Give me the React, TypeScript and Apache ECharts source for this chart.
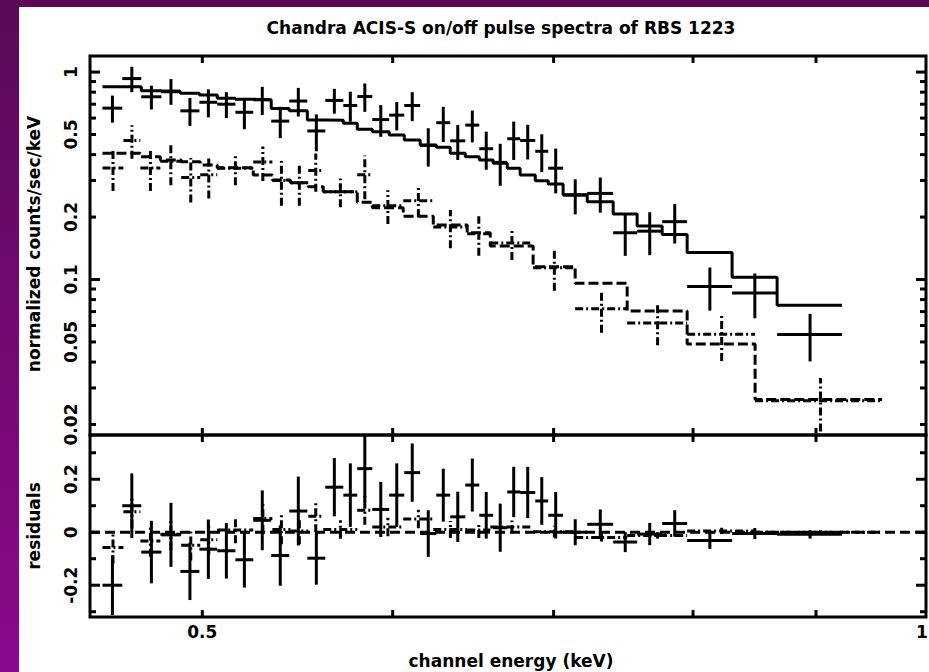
import React, { useEffect, useRef } from "react";
import * as echarts from "echarts";

// ---------- texts ----------
const titleText = "Chandra ACIS-S on/off pulse spectra of RBS 1223";
const xTitle = "channel energy (keV)";
const yTitleTop = "normalized counts/sec/keV";
const yTitleBottom = "residuals";

// ---------- data: "on" pulse (solid crosses, solid model) ----------
const onEdges = [0.4544, 0.4631, 0.4716, 0.4808, 0.4896, 0.4986, 0.5072, 0.5161, 0.525, 0.5341, 0.5434, 0.5529, 0.5625, 0.5723, 0.58, 0.5884, 0.598, 0.6067, 0.616, 0.6256, 0.634, 0.6432, 0.6519, 0.6606, 0.6696, 0.6779, 0.6878, 0.6964, 0.7064, 0.7229, 0.7411, 0.7583, 0.7767, 0.7955, 0.8305, 0.8671, 0.9227];
const onRate = [0.67, 0.93, 0.76, 0.81, 0.65, 0.715, 0.7, 0.64, 0.735, 0.58, 0.725, 0.52, 0.73, 0.69, 0.762, 0.59, 0.62, 0.69, 0.443, 0.57, 0.466, 0.555, 0.427, 0.367, 0.477, 0.468, 0.415, 0.344, 0.255, 0.26, 0.168, 0.171, 0.19, 0.0925, 0.086, 0.0543];
const onErr = [0.1, 0.13, 0.1, 0.115, 0.1, 0.11, 0.1, 0.11, 0.114, 0.1, 0.114, 0.105, 0.1, 0.114, 0.119, 0.103, 0.097, 0.11, 0.093, 0.11, 0.089, 0.097, 0.089, 0.084, 0.1, 0.089, 0.086, 0.084, 0.049, 0.05, 0.038, 0.04, 0.041, 0.0217, 0.021, 0.014];
const onModel = [0.849, 0.849, 0.813, 0.804, 0.79, 0.775, 0.747, 0.739, 0.735, 0.668, 0.651, 0.587, 0.585, 0.566, 0.53, 0.516, 0.497, 0.47, 0.445, 0.434, 0.406, 0.391, 0.377, 0.363, 0.344, 0.319, 0.299, 0.289, 0.256, 0.237, 0.207, 0.181, 0.165, 0.135, 0.1025, 0.0752];
const onResid = [-0.2, 0.1, -0.075, -0.01, -0.148, -0.064, -0.07, -0.104, 0.045, -0.088, 0.08, -0.098, 0.17, 0.14, 0.24, 0.086, 0.14, 0.225, -0.005, 0.14, 0.058, 0.178, 0.064, 0.017, 0.152, 0.15, 0.118, 0.064, 0.0, 0.03, -0.037, -0.007, 0.033, -0.031, -0.005, -0.008];
const onResidErr = [0.113, 0.122, 0.118, 0.121, 0.108, 0.112, 0.105, 0.105, 0.113, 0.114, 0.13, 0.1, 0.11, 0.12, 0.125, 0.104, 0.12, 0.11, 0.088, 0.1, 0.095, 0.1, 0.088, 0.091, 0.095, 0.097, 0.09, 0.088, 0.049, 0.056, 0.038, 0.042, 0.05, 0.032, 0.021, 0.016];

// ---------- data: "off" pulse (dash-dot crosses, dashed model) ----------
const offEdges = [0.4544, 0.4636, 0.4712, 0.4803, 0.49, 0.499, 0.5072, 0.525, 0.5347, 0.544, 0.5534, 0.5614, 0.58, 0.5884, 0.6061, 0.6238, 0.6444, 0.6588, 0.6864, 0.7146, 0.7511, 0.7955, 0.849, 0.9588];
const offRate = [0.345, 0.468, 0.345, 0.372, 0.31, 0.32, 0.344, 0.368, 0.3, 0.293, 0.335, 0.265, 0.32, 0.227, 0.24, 0.179, 0.166, 0.15, 0.114, 0.0723, 0.0617, 0.0545, 0.026];
const offErr = [0.078, 0.086, 0.078, 0.087, 0.075, 0.074, 0.059, 0.07, 0.073, 0.066, 0.07, 0.042, 0.076, 0.042, 0.04, 0.0375, 0.036, 0.026, 0.0257, 0.017, 0.0135, 0.014, 0.0075];
const offModel = [0.406, 0.406, 0.391, 0.377, 0.37, 0.356, 0.346, 0.319, 0.302, 0.293, 0.28, 0.265, 0.236, 0.222, 0.202, 0.183, 0.168, 0.145, 0.1153, 0.0959, 0.0704, 0.0489, 0.0264];
const offResid = [-0.058, 0.077, -0.033, -0.008, -0.049, -0.028, 0.008, 0.052, 0.01, 0.005, 0.06, 0.01, 0.083, 0.02, 0.05, 0.01, 0.008, 0.02, 0.002, -0.02, -0.012, 0.005, 0.0];
const offResidErr = [0.06, 0.06, 0.06, 0.06, 0.058, 0.057, 0.05, 0.055, 0.055, 0.05, 0.06, 0.035, 0.055, 0.035, 0.035, 0.032, 0.03, 0.024, 0.022, 0.015, 0.012, 0.012, 0.007];

// ---------- axes ----------
const xMin = 0.449;
const xMax = 1.0;
const yMin = 0.0178;
const yMax = 1.195;
const rMin = -0.32;
const rMax = 0.367;
const xTicks = [0.5, 0.6, 0.7, 0.8, 0.9];
const xLabelValues = [0.5, 1];
const xLabelTexts = ["0.5", "1"];
const yTicks = [0.02, 0.03, 0.04, 0.05, 0.06, 0.07, 0.08, 0.09, 0.1, 0.2, 0.3, 0.4, 0.5, 0.6, 0.7, 0.8, 0.9, 1];
const yMajor = [0.1, 1];
const yLabelValues = [1, 0.5, 0.2, 0.1, 0.05, 0.02];
const yLabelTexts = ["1", "0.5", "0.2", "0.1", "0.05", "0.02"];
const rTicks = [-0.3, -0.2, -0.1, 0, 0.1, 0.2, 0.3];
const rMajor = [-0.2, 0, 0.2];
const rLabelValues = [0.2, 0, -0.2];
const rLabelTexts = ["0.2", "0", "-0.2"];

const FONT = "DejaVu Sans";
const FS = 17;

function crosses(edges: number[], vals: number[], errs: number[]) {
  return vals.map((v, i) => {
    const lo = edges[i];
    const hi = edges[i + 1];
    return [(lo + hi) / 2, v, lo, hi, v - errs[i], v + errs[i]];
  });
}
function steps(edges: number[], vals: number[]) {
  const out: number[][] = [];
  vals.forEach((v, i) => {
    out.push([edges[i], v]);
    out.push([edges[i + 1], v]);
  });
  return out;
}

function errRender(dash: number[] | null) {
  return (params: any, api: any) => {
    const xc = api.value(0);
    const y = api.value(1);
    const pL = api.coord([api.value(2), y]);
    const pR = api.coord([api.value(3), y]);
    const pB = api.coord([xc, api.value(4)]);
    const pT = api.coord([xc, api.value(5)]);
    const style: any = { stroke: "#000", lineWidth: 3, fill: null, lineDash: dash || undefined };
    return {
      type: "group",
      children: [
        { type: "line", shape: { x1: pL[0], y1: pL[1], x2: pR[0], y2: pR[1] }, style },
        { type: "line", shape: { x1: pB[0], y1: pB[1], x2: pT[0], y2: pT[1] }, style },
      ],
    };
  };
}

const tickStyle = { stroke: "#000", lineWidth: 3 };

function xTickRender(refY: number) {
  return (params: any, api: any) => {
    const cs = params.coordSys;
    const px = api.coord([api.value(0), refY])[0];
    const L = 7;
    return {
      type: "group",
      children: [
        { type: "line", shape: { x1: px, y1: cs.y, x2: px, y2: cs.y + L }, style: tickStyle },
        { type: "line", shape: { x1: px, y1: cs.y + cs.height, x2: px, y2: cs.y + cs.height - L }, style: tickStyle },
      ],
    };
  };
}
function yTickRender(refX: number) {
  return (params: any, api: any) => {
    const cs = params.coordSys;
    const py = api.coord([refX, api.value(0)])[1];
    const L = api.value(1) ? 10 : 6;
    return {
      type: "group",
      children: [
        { type: "line", shape: { x1: cs.x, y1: py, x2: cs.x + L, y2: py }, style: tickStyle },
        { type: "line", shape: { x1: cs.x + cs.width, y1: py, x2: cs.x + cs.width - L, y2: py }, style: tickStyle },
      ],
    };
  };
}
const textStyle = { fontSize: FS, fontFamily: FONT, fontWeight: "bold", fill: "#000", align: "center", verticalAlign: "middle" };

function yLabelRender(refX: number, texts: string[]) {
  return (params: any, api: any) => {
    const cs = params.coordSys;
    const py = api.coord([refX, api.value(0)])[1];
    return {
      type: "text",
      x: cs.x - 19,
      y: py,
      rotation: Math.PI / 2,
      style: { ...textStyle, text: texts[params.dataIndex] },
    };
  };
}
function xLabelRender(refY: number, texts: string[]) {
  return (params: any, api: any) => {
    const cs = params.coordSys;
    const px = Math.min(api.coord([api.value(0), refY])[0], 922);
    return {
      type: "text",
      x: px,
      y: cs.y + cs.height + 15,
      style: { ...textStyle, text: texts[params.dataIndex] },
    };
  };
}

export default function App() {
  const ref = useRef<HTMLDivElement>(null);
  useEffect(() => {
    if (!ref.current) return;
    const chart = echarts.init(ref.current, undefined, { renderer: "svg" });
    const hiddenAxis = {
      axisLine: { show: false },
      axisTick: { show: false },
      axisLabel: { show: false },
      splitLine: { show: false },
    };
    const option: any = {
      animation: false,
      backgroundColor: "#fff",
      grid: [
        { left: 90, top: 56, width: 836, height: 379, show: true, borderColor: "#000", borderWidth: 3, backgroundColor: "transparent" },
        { left: 90, top: 435, width: 836, height: 182, show: true, borderColor: "#000", borderWidth: 3, backgroundColor: "transparent" },
      ],
      xAxis: [
        { type: "log", gridIndex: 0, min: xMin, max: xMax, ...hiddenAxis },
        { type: "log", gridIndex: 1, min: xMin, max: xMax, ...hiddenAxis },
      ],
      yAxis: [
        { type: "log", gridIndex: 0, min: yMin, max: yMax, ...hiddenAxis },
        { type: "value", gridIndex: 1, min: rMin, max: rMax, ...hiddenAxis },
      ],
      graphic: [
        {
          type: "rect",
          shape: { x: 0, y: 0, width: 19, height: 672 },
          style: {
            fill: new echarts.graphic.LinearGradient(0, 0, 0, 1, [
              { offset: 0, color: "#5a0a56" },
              { offset: 1, color: "#8a0a8c" },
            ]),
          },
          z: 100,
        },
        { type: "rect", shape: { x: 0, y: 0, width: 929, height: 7 }, style: { fill: "#5a0a52" }, z: 100 },
        { type: "text", x: 501, y: 28, style: { ...textStyle, text: titleText } },
        { type: "text", x: 34, y: 244, rotation: Math.PI / 2, style: { ...textStyle, text: yTitleTop } },
        { type: "text", x: 34, y: 526, rotation: Math.PI / 2, style: { ...textStyle, text: yTitleBottom } },
        { type: "text", x: 511, y: 661, style: { ...textStyle, text: xTitle } },
      ],
      series: [
        // models
        { type: "line", xAxisIndex: 0, yAxisIndex: 0, data: steps(onEdges, onModel), symbol: "none", lineStyle: { color: "#000", width: 3 }, clip: true },
        { type: "line", xAxisIndex: 0, yAxisIndex: 0, data: steps(offEdges, offModel), symbol: "none", lineStyle: { color: "#000", width: 3, type: [10, 4] }, clip: true },
        // data crosses
        { type: "custom", xAxisIndex: 0, yAxisIndex: 0, data: crosses(onEdges, onRate, onErr), renderItem: errRender(null), clip: true },
        { type: "custom", xAxisIndex: 0, yAxisIndex: 0, data: crosses(offEdges, offRate, offErr), renderItem: errRender([8, 3, 2, 3]), clip: true },
        // residual zero line
        { type: "line", xAxisIndex: 1, yAxisIndex: 1, data: [[xMin, 0], [xMax, 0]], symbol: "none", lineStyle: { color: "#000", width: 3, type: [10, 5] } },
        // residual crosses
        { type: "custom", xAxisIndex: 1, yAxisIndex: 1, data: crosses(onEdges, onResid, onResidErr), renderItem: errRender(null), clip: true },
        { type: "custom", xAxisIndex: 1, yAxisIndex: 1, data: crosses(offEdges, offResid, offResidErr), renderItem: errRender([8, 3, 2, 3]), clip: true },
        // ticks
        { type: "custom", xAxisIndex: 0, yAxisIndex: 0, data: xTicks.map((v) => [v, 0.1]), renderItem: xTickRender(0.1) },
        { type: "custom", xAxisIndex: 1, yAxisIndex: 1, data: xTicks.map((v) => [v, 0]), renderItem: xTickRender(0) },
        { type: "custom", xAxisIndex: 0, yAxisIndex: 0, data: yTicks.map((v) => [v, yMajor.includes(v) ? 1 : 0]), renderItem: yTickRender(0.6), encode: { x: -1, y: 0 } },
        { type: "custom", xAxisIndex: 1, yAxisIndex: 1, data: rTicks.map((v) => [v, rMajor.includes(v) ? 1 : 0]), renderItem: yTickRender(0.6), encode: { x: -1, y: 0 } },
        // tick labels
        { type: "custom", xAxisIndex: 0, yAxisIndex: 0, data: yLabelValues.map((v) => [v]), renderItem: yLabelRender(0.6, yLabelTexts), encode: { x: -1, y: 0 } },
        { type: "custom", xAxisIndex: 1, yAxisIndex: 1, data: rLabelValues.map((v) => [v]), renderItem: yLabelRender(0.6, rLabelTexts), encode: { x: -1, y: 0 } },
        { type: "custom", xAxisIndex: 1, yAxisIndex: 1, data: xLabelValues.map((v) => [v, 0]), renderItem: xLabelRender(0, xLabelTexts) },
      ],
    };
    chart.setOption(option);
    return () => chart.dispose();
  }, []);
  return (
    <div
      ref={ref}
      style={{ position: "absolute", left: 0, top: 0, width: 929, height: 672, background: "#fff" }}
    />
  );
}
